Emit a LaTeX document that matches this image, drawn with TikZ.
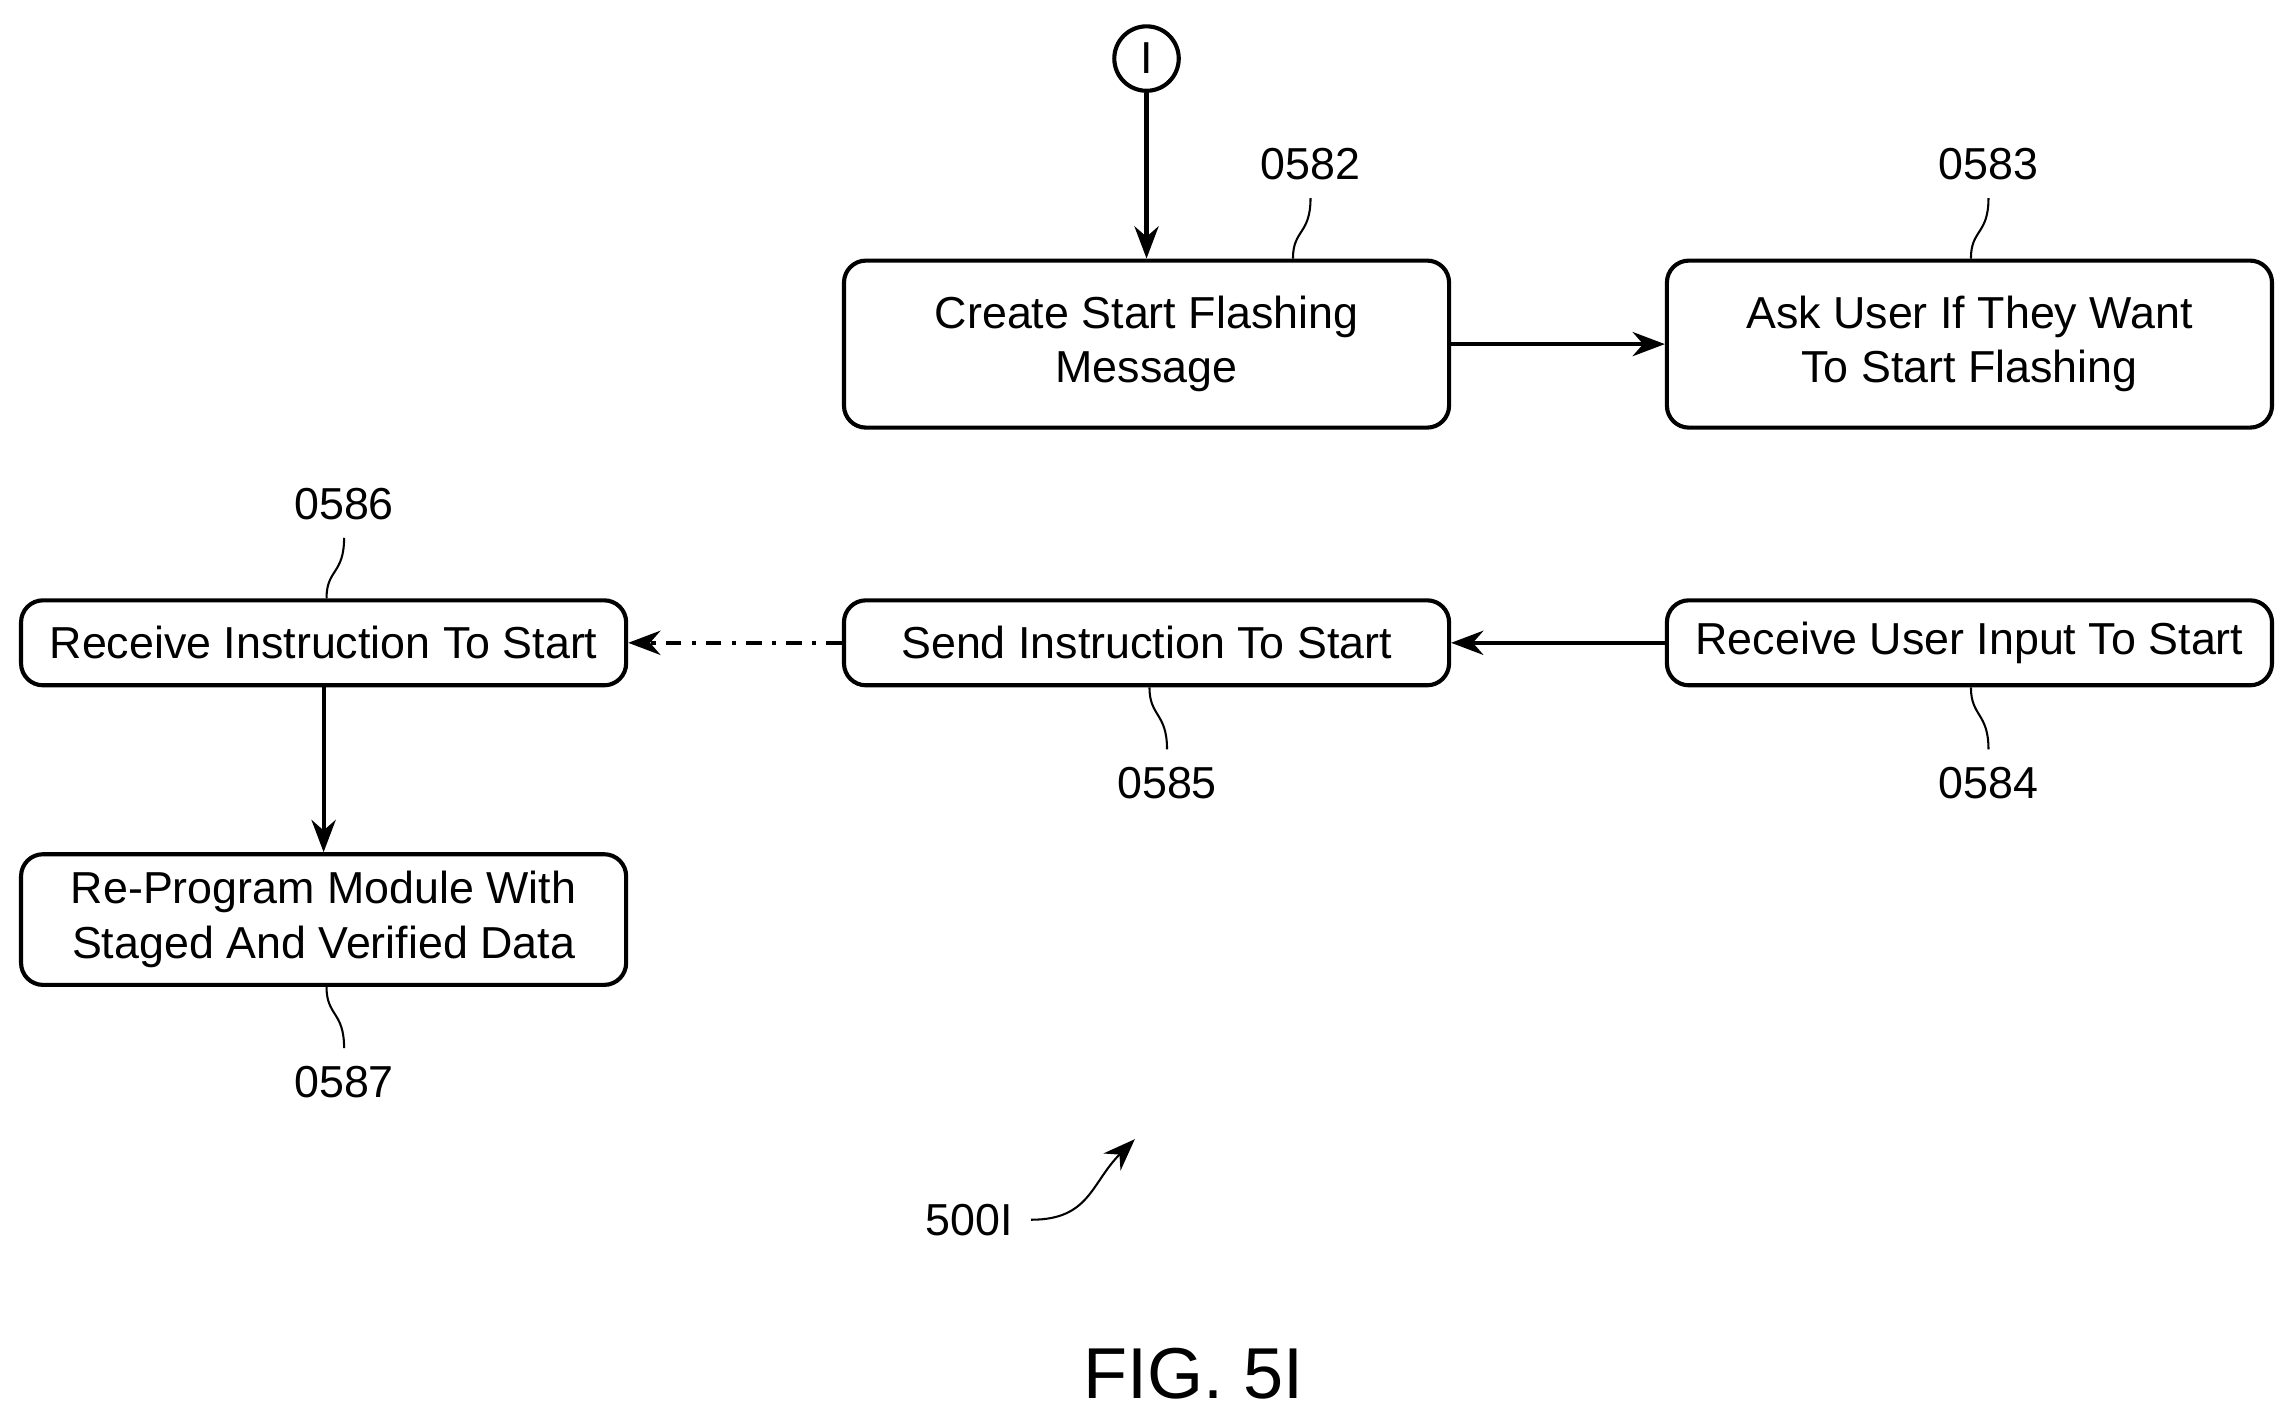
\documentclass[tikz,border=0pt]{standalone}
\usepackage{fontspec}
\setmainfont{Liberation Sans}
\usetikzlibrary{arrows.meta}
\begin{document}
\begin{tikzpicture}[
        x=0.01cm, y=-0.01cm,
        font=\fontsize{8.7}{10.6}\selectfont,
        box/.style={
            rectangle,
            rounded corners=1.5mm,
            draw=black,
            thick,
            minimum width=4.13cm,
            align=center,
        },
        tall/.style={
            minimum height=1.14cm,
        },
        flat/.style={
            minimum height=0.58cm,
        },
        mid/.style={
            minimum height=0.87cm,
        },
        flow/.style={
            -{Stealth[length=2.2mm]},
            thick,
        },
        lead/.style={
            thin,
        },
    ]
        \useasboundingbox (0,0) rectangle (1568,970);

        \node [circle, draw, thick, minimum size=0.44cm, inner sep=0pt] (conn) at (783,40) {I};

        \node [box, tall] (b582) at (783,235) {Create Start Flashing\\Message};
        \node [box, tall] (b583) at (1345,235) {Ask User If They Want\\To Start Flashing};
        \node [box, flat] (b586) at (221,439) {Receive Instruction To Start};
        \node [box, flat] (b585) at (783,439) {Send Instruction To Start};
        \node [box, flat] (b584) at (1345,439) {Receive User Input To Start};
        \node [box, mid] (b587) at (221,628) {Re-Program Module With\\Staged And Verified Data};

        % reference numerals
        \node (l582) at (895,112) {0582};
        \node (l583) at (1358,112) {0583};
        \node (l586) at (235,344) {0586};
        \node (l585) at (797,535) {0585};
        \node (l584) at (1358,535) {0584};
        \node (l587) at (235,739) {0587};
        \node (l500) at (662,833) {500I};
        \node [font=\fontsize{14}{16}\selectfont] (fig) at (815,938) {FIG. 5I};

        \coordinate (t500) at (775,778);

        \draw [flow] (conn) -- (b582);
        \draw [flow] (b582) -- (b583);
        \draw [flow] (b584) -- (b585);
        \draw [flow, dash dot] (b585) -- (b586);
        \draw [flow] (b586) -- (b587);

        \draw [lead] (l582.south) .. controls +(0,25) and +(0,-20) .. (b582.north -| 883,0);
        \draw [lead] (l583.south) .. controls +(0,25) and +(0,-20) .. (b583.north -| 1346,0);
        \draw [lead] (l586.south) .. controls +(0,25) and +(0,-20) .. (b586.north -| 223,0);
        \draw [lead] (l585.north) .. controls +(0,-25) and +(0,20) .. (b585.south -| 785,0);
        \draw [lead] (l584.north) .. controls +(0,-25) and +(0,20) .. (b584.south -| 1346,0);
        \draw [lead] (l587.north) .. controls +(0,-25) and +(0,20) .. (b587.south -| 223,0);
        \draw [flow, thin] (l500.east) .. controls +(40,0) and +(-30,30) .. (t500);
    \end{tikzpicture}
\end{document}
